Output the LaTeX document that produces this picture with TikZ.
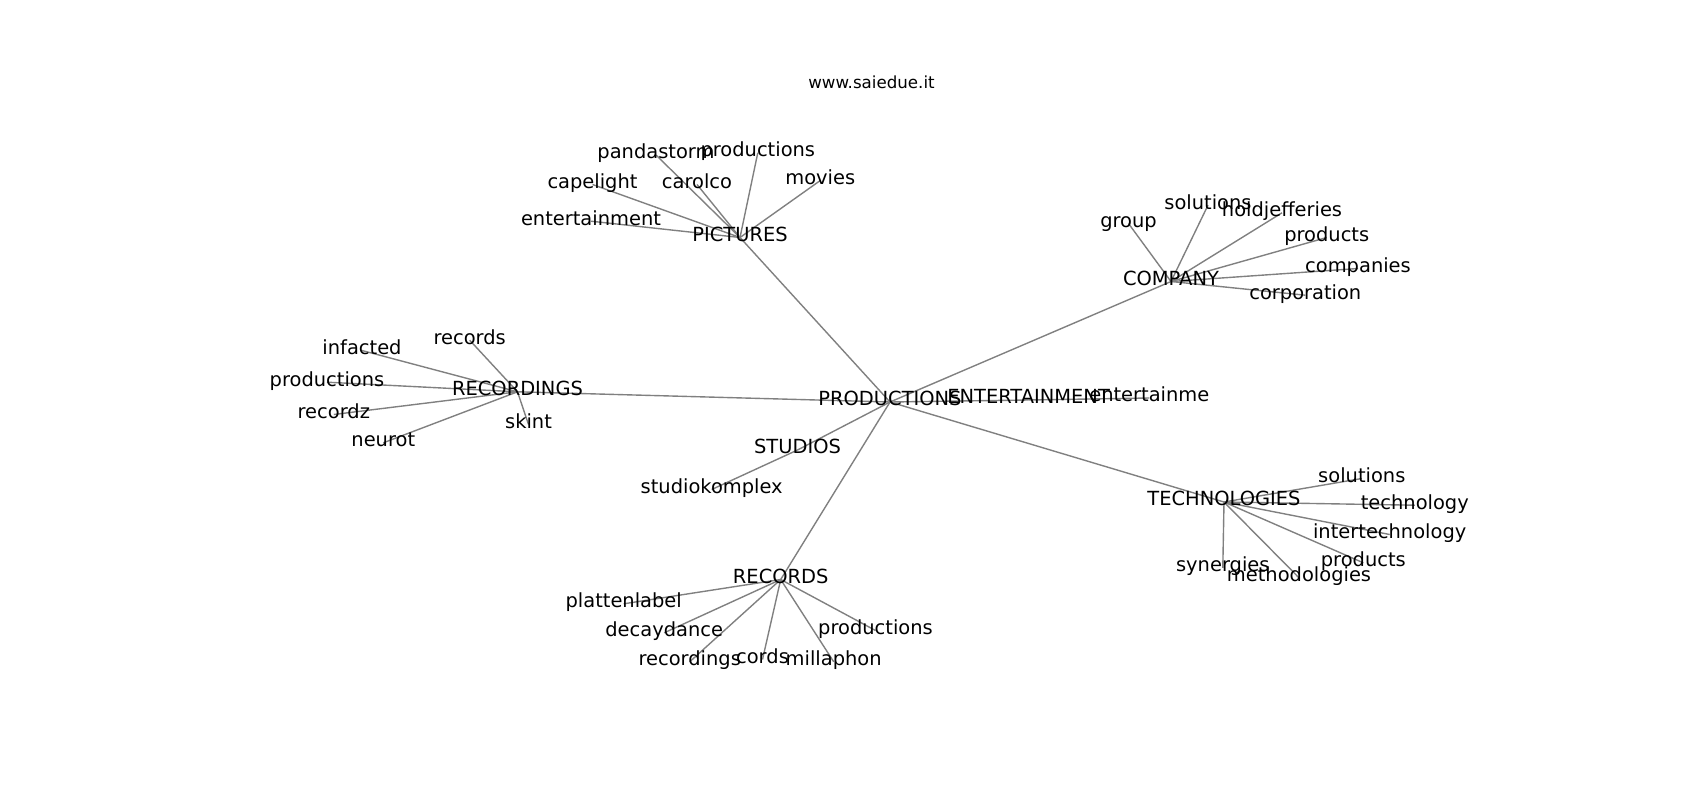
\documentclass[tikz,border=0pt]{standalone}
\usepackage{fontspec}
\setmainfont{DejaVu Sans}
\usetikzlibrary{backgrounds}
\tikzset{
  lbl/.style={inner sep=0pt, outer sep=0pt, anchor=center, yshift=-1.8bp, text height=0.76em, text depth=0.208em, font=\fontsize{14bp}{16bp}\selectfont, text=black},
  ttl/.style={inner sep=0pt, anchor=base, font=\fontsize{12bp}{14bp}\selectfont, text=black},
  edge/.style={draw=black!50, line width=1bp}
}
\begin{document}
\begin{tikzpicture}[x=0.72bp, y=-0.72bp]
\useasboundingbox (0,0) rectangle (1700,800);
\node[ttl] (title) at (871.5,88.5) {www.saiedue.it};
% hubs
\node[lbl] (prod) at (890,399.5) {PRODUCTIONS};
\node[lbl] (pict) at (740,235) {PICTURES};
\node[lbl] (comp) at (1171,279) {COMPANY};
\node[lbl] (rcdg) at (517.5,389.3) {RECORDINGS};
\node[lbl] (ent) at (1028.6,397.5) {ENTERTAINMENT};
\node[lbl] (stud) at (797.5,447.5) {STUDIOS};
\node[lbl] (tech) at (1224,499.5) {TECHNOLOGIES};
\node[lbl] (rec) at (780.7,577) {RECORDS};
% pictures
\node[lbl] (pa) at (656,152.5) {pandastorm};
\node[lbl] (pb) at (757.8,150.3) {productions};
\node[lbl] (pc) at (592.5,182) {capelight};
\node[lbl] (pd) at (697,182) {carolco};
\node[lbl] (pe) at (820.3,178) {movies};
\node[lbl] (pf) at (591,218.7) {entertainment};
% company
\node[lbl] (ca) at (1128.5,221) {group};
\node[lbl] (cb) at (1208,202.7) {solutions};
\node[lbl] (cc) at (1282,210.3) {holdjefferies};
\node[lbl] (cd) at (1326.7,235) {products};
\node[lbl] (ce) at (1358,266) {companies};
\node[lbl] (cf) at (1305.3,292.7) {corporation};
% recordings
\node[lbl] (ra) at (469.7,337.7) {records};
\node[lbl] (rb) at (362,348) {infacted};
\node[lbl] (rc) at (327,379.7) {productions};
\node[lbl] (rd) at (333.8,412) {recordz};
\node[lbl] (re) at (383.3,440.3) {neurot};
\node[lbl] (rf) at (528.5,422) {skint};
% entertainment, studios
\node[lbl] (ea) at (1149.3,395.5) {entertainme};
\node[lbl] (sa) at (711.7,487) {studiokomplex};
% technologies
\node[lbl] (ta) at (1361.8,476) {solutions};
\node[lbl] (tb) at (1414.8,502.7) {technology};
\node[lbl] (tc) at (1389.7,532) {intertechnology};
\node[lbl] (td) at (1363.3,560.3) {products};
\node[lbl] (te) at (1222.8,565.3) {synergies};
\node[lbl] (tf) at (1299,575.3) {methodologies};
% records
\node[lbl] (ka) at (623.7,601.3) {plattenlabel};
\node[lbl] (kb) at (664.2,630.3) {decaydance};
\node[lbl] (kc) at (875.5,628) {productions};
\node[lbl] (kd) at (689.7,659.3) {recordings};
\node[lbl] (ke) at (762.5,657) {cords};
\node[lbl] (kf) at (833.7,659.3) {millaphon};
\begin{scope}[on background layer]
\fill[white] (0,0) rectangle (1700,800);
\foreach \h in {pict,comp,rcdg,ent,stud,tech,rec} \draw[edge] (prod.center) -- (\h.center);
\foreach \c in {pa,pb,pc,pd,pe,pf} \draw[edge] (pict.center) -- (\c.center);
\foreach \c in {ca,cb,cc,cd,ce,cf} \draw[edge] (comp.center) -- (\c.center);
\foreach \c in {ra,rb,rc,rd,re,rf} \draw[edge] (rcdg.center) -- (\c.center);
\foreach \c in {ta,tb,tc,td,te,tf} \draw[edge] (tech.center) -- (\c.center);
\foreach \c in {ka,kb,kc,kd,ke,kf} \draw[edge] (rec.center) -- (\c.center);
\draw[edge] (ent.center) -- (ea.center);
\draw[edge] (stud.center) -- (sa.center);
\end{scope}
\end{tikzpicture}
\end{document}
